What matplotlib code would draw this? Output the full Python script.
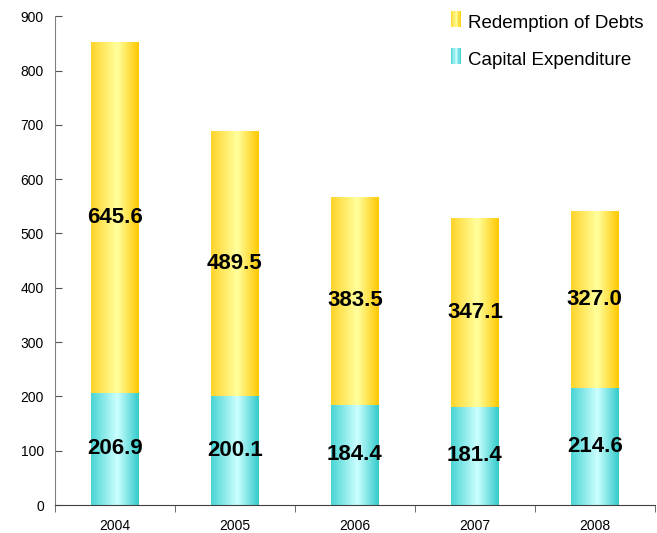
import numpy as np
import matplotlib.pyplot as plt
from matplotlib.colors import LinearSegmentedColormap
from matplotlib.patches import Rectangle
from matplotlib.legend_handler import HandlerBase

plt.rcParams['font.family'] = ['Liberation Sans', 'DejaVu Sans']

years = ['2004', '2005', '2006', '2007', '2008']
capital = [206.9, 200.1, 184.4, 181.4, 214.6]
redemption = [645.6, 489.5, 383.5, 347.1, 327.0]

# cylinder-like shading across each bar
yellow = LinearSegmentedColormap.from_list(
    'yel', [(0, '#FFD42A'), (0.55, '#FFFF9E'), (1, '#FFC800')])
teal = LinearSegmentedColormap.from_list(
    'tea', [(0, '#48D4D4'), (0.55, '#CCFFFF'), (1, '#33CACA')])
grad = np.linspace(0, 1, 256).reshape(1, -1)

fig = plt.figure(figsize=(6.57, 5.33), dpi=100)
ax = fig.add_axes([0.0837, 0.0525, 0.913, 0.917])

x = np.arange(len(years))
w = 0.4


def shade(bars, cmap):
    for b in bars:
        b.set_facecolor('none')
        b.set_edgecolor('none')
        x0, y0 = b.get_x(), b.get_y()
        im = ax.imshow(grad, cmap=cmap, aspect='auto', interpolation='bilinear',
                       extent=(x0, x0 + b.get_width(), y0, y0 + b.get_height()),
                       zorder=2)
        im.set_clip_path(b)


b1 = ax.bar(x, capital, w, zorder=2)
b2 = ax.bar(x, redemption, w, bottom=capital, zorder=2)
shade(b1, teal)
shade(b2, yellow)

for i in range(len(years)):
    ax.text(x[i], capital[i] / 2, f'{capital[i]:.1f}', ha='center', va='center',
            fontsize=16, fontweight='bold', zorder=3)
    ax.text(x[i], capital[i] + redemption[i] / 2, f'{redemption[i]:.1f}',
            ha='center', va='center', fontsize=16, fontweight='bold', zorder=3)

ax.set_xlim(-0.5, len(years) - 0.5)
ax.set_ylim(0, 900)
ax.set_yticks(range(0, 901, 100))
ax.set_xticks(x)
ax.set_xticklabels(years)
ax.set_xticks(np.arange(-0.5, len(years), 1), minor=True)
ax.tick_params(axis='x', which='major', length=0, labelsize=10, pad=10)
ax.tick_params(axis='x', which='minor', length=5, direction='out', color='#555555')
ax.tick_params(axis='y', length=5, direction='in', labelsize=10, color='#555555', pad=8)

for s in ['top', 'right']:
    ax.spines[s].set_visible(False)
ax.spines['left'].set_color('#808080')
ax.spines['bottom'].set_color('#404040')


class GradHandler(HandlerBase):
    def __init__(self, cmap):
        super().__init__()
        self.cmap = cmap

    def create_artists(self, legend, orig, xd, yd, width, height, fontsize, trans):
        n = 8
        out = []
        for k in range(n):
            r = Rectangle((xd + width * k / n, yd), width / n, height,
                          facecolor=self.cmap((k + 0.5) / n), edgecolor='none',
                          transform=trans)
            out.append(r)
        return out


h1 = Rectangle((0, 0), 1, 1)
h2 = Rectangle((0, 0), 1, 1)
ax.legend([h1, h2], ['Redemption of Debts', 'Capital Expenditure'],
          handler_map={h1: GradHandler(yellow), h2: GradHandler(teal)},
          loc='upper right', bbox_to_anchor=(1.01, 1.04), frameon=False,
          fontsize=13.5, handlelength=0.55, handleheight=0.9, handletextpad=0.4,
          labelspacing=1.0)

fig.savefig('out.png', dpi=100)
